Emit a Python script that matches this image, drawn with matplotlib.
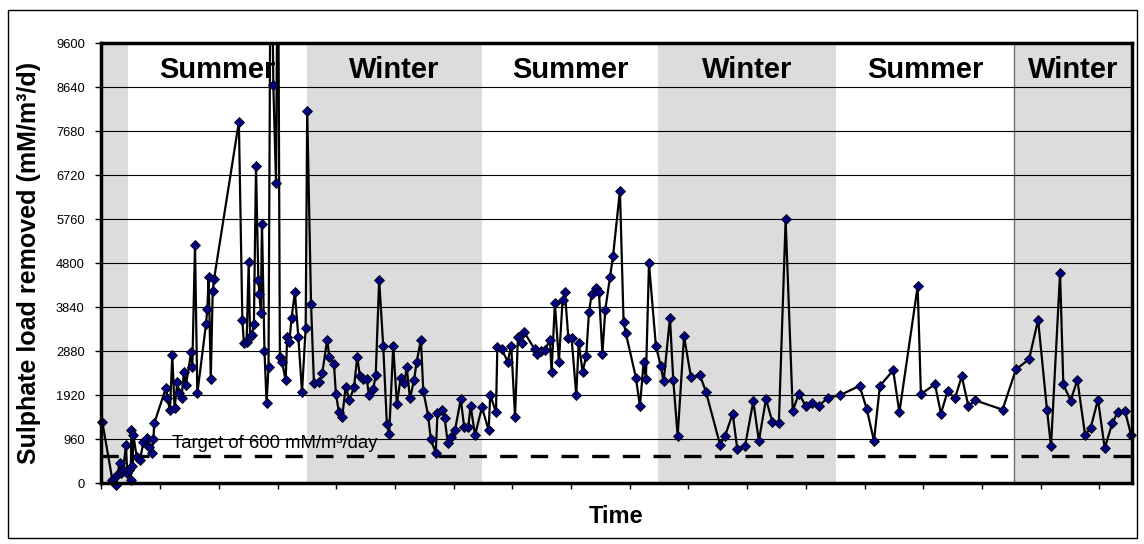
import numpy as np
import matplotlib
matplotlib.use('Agg')
import matplotlib.pyplot as plt
from matplotlib.patches import Rectangle

plt.rcParams['font.family'] = ['Liberation Sans', 'DejaVu Sans']

# sampling day (from start of record) and sulphate load removed (mM/m3/d)
days = [0.4, 5.7, 7.8, 8.3, 9.4, 10.4, 11.3, 12.7, 13.4, 14.4, 15.1, 15.6, 16.1, 16.6,
        18.3, 20.0, 21.8, 23.4, 24.7, 26.0, 27.0, 27.4, 33.5, 34.2, 35.6, 36.8, 38.0,
        39.4, 40.4, 41.6, 42.9, 43.9, 46.6, 47.2, 48.6, 49.8, 54.3, 55.0, 55.7, 56.8,
        57.8, 58.5, 71.4, 73.2, 74.0, 75.4, 76.5, 77.2, 78.0, 79.2, 80.3, 81.5, 82.1,
        82.8, 83.4, 84.7, 85.8, 86.8, 88.1, 89.3, 90.7, 91.7, 92.7, 93.9, 95.7, 96.5,
        97.6, 98.8, 100.5, 102.3, 104.2, 106.1, 106.9, 108.9, 110.4, 113.2, 114.7,
        117.3, 118.4, 120.8, 121.8, 123.4, 125.1, 126.9, 128.8, 131.2, 132.9, 134.3,
        136.0, 137.8, 139.0, 141.2, 142.5, 144.3, 146.4, 148.3, 149.5, 151.6, 153.5,
        155.5, 157.3, 158.6, 160.3, 162.4, 163.8, 166.0, 167.2, 169.8, 171.1, 173.7,
        174.6, 177.1, 178.3, 180.0, 181.8, 183.7, 186.7, 188.5, 190.6, 191.8, 194.1,
        197.7, 201.2, 202.0, 205.0, 205.7, 207.9, 211.1, 212.9, 214.9, 216.4, 218.3,
        219.5, 225.1, 226.5, 228.5, 230.4, 233.0, 233.9, 235.6, 237.7, 239.6, 240.8,
        242.6, 244.3, 246.7, 248.0, 250.0, 251.9, 253.3, 254.7, 256.9, 258.5, 260.3,
        261.8, 264.2, 265.8, 269.4, 271.3, 272.5, 277.7, 279.8, 281.7, 282.9, 284.5,
        288.1, 290.6, 292.1, 295.4, 297.1, 299.4, 302.7, 306.3, 311.0, 314.1, 321.4,
        324.0, 328.0, 330.4, 334.4, 338.7, 341.6, 345.3, 348.6, 352.0, 355.5, 359.2,
        362.4, 365.9, 369.3, 372.8, 377.3, 383.7, 393.9, 397.6, 401.4, 404.5, 411.4,
        414.6, 424.1, 425.8, 433.1, 436.2, 439.7, 443.5, 447.0, 450.5, 454.0, 468.2,
        475.2, 482.0, 486.7, 491.3, 493.4, 498.1, 499.8, 503.6, 507.1, 511.1, 514.0,
        517.8, 521.3, 525.2, 528.2, 531.8, 535.0]
load = [1340, 60, -50, 170, 440, 215, 280, 825, 215, 280, 65, 1150, 380, 1040,
        565, 510, 890, 975, 785, 660, 950, 1300, 2075, 1850, 1585, 2785, 1630,
        2195, 1970, 1865, 2420, 2140, 2855, 2535, 5190, 1955, 3460, 3790, 4490, 2275,
        4180, 4450, 7880, 3560, 3050, 3080, 4820, 3180, 3220, 3460, 6920, 4440, 4115,
        3720, 5660, 2875, 1750, 2525, 14000, 8680, 6540, 13000, 2740, 2630, 2240, 3180,
        3070, 3610, 4160, 3180, 1980, 3375, 8120, 3900, 2185, 2205, 2390,
        3130, 2740, 2605, 1950, 1540, 1445, 2100, 1810, 2085, 2750, 2330,
        2280, 2280, 1915, 2045, 2350, 4430, 2990, 1290, 1080, 2990, 1730,
        2300, 2175, 2530, 1845, 2240, 2650, 3130, 2015, 1460, 950, 660,
        1520, 1600, 1415, 865, 1000, 1155, 1825, 1215, 1215, 1690, 1045,
        1650, 1150, 1930, 1540, 2975, 2920, 2650, 3000, 1445, 3185, 3050,
        3300, 2920, 2810, 2890, 2895, 3130, 2425, 3925, 2650, 3990, 4160,
        3170, 3160, 1915, 3065, 2425, 2780, 3725, 4120, 4250, 4165, 2820,
        3785, 4485, 4945, 6380, 3510, 3265, 2300, 1675, 2630, 2280, 4790,
        2990, 2555, 2220, 3600, 2255, 1025, 3200, 2315, 2350, 1990, 840,
        1025, 1515, 735, 805, 1785, 920, 1830, 1335, 1315, 5750, 1575,
        1950, 1685, 1750, 1685, 1855, 1915, 2120, 1625, 920, 2120, 2460,
        1540, 4290, 1940, 2155, 1515, 2005, 1845, 2330, 1675, 1805, 1600,
        2480, 2700, 3560, 1600, 800, 4580, 2150, 1800, 2250, 1050, 1200,
        1820, 760, 1300, 1560, 1580, 1050]

season_edges = [0, 14.0, 106.9, 197.5, 289.3, 381.5, 474.4, 535.3]
season_names = ['', 'Summer', 'Winter', 'Summer', 'Winter', 'Summer', 'Winter']
target = 600
y_ticks = list(range(0, 9601, 960))
month_ticks = np.arange(0, 535.3, 30.5)

fig = plt.figure(figsize=(11.44, 5.44), dpi=100)
fig.patches.append(Rectangle((0.007, 0.011), 0.987, 0.9706, transform=fig.transFigure,
                             fill=False, ec='black', lw=1.0))
ax = fig.add_axes([0.0887, 0.1121, 0.9005, 0.8088])

for i, name in enumerate(season_names):
    x0, x1 = season_edges[i], season_edges[i + 1]
    if name != 'Summer':
        ax.axvspan(x0, x1, color='#dcdcdc', lw=0, zorder=0)
    if name:
        ax.text((x0 + x1) / 2, 8840, name, ha='center', va='baseline',
                fontsize=21, fontweight='bold', zorder=2)
ax.axvline(season_edges[6], color='#707070', lw=1.0, zorder=1)

for yv in y_ticks[1:]:
    ax.axhline(yv, color='black', lw=0.8, zorder=1)

ax.axhline(target, color='black', lw=2.4, dashes=(5.2, 4.0), zorder=3)
ax.text(36.5, 770, 'Target of 600 mM/m\u00b3/day', fontsize=13.3, va='baseline', zorder=3)

x = np.array(days)
y = np.array(load)
ax.plot(x, y, color='black', lw=1.6, zorder=4)
vis = y <= 9600
ax.plot(x[vis], y[vis], ls='none', marker='D', ms=5.4, mfc='#000080', mec='black',
        mew=0.6, zorder=5, clip_on=False)

ax.set_xlim(0, 535.3)
ax.set_ylim(0, 9600)
ax.set_yticks(y_ticks)
ax.set_xticks(month_ticks)
ax.set_xticklabels([])
ax.tick_params(axis='y', direction='out', length=4, width=1, labelsize=9.3, pad=8)
ax.tick_params(axis='x', direction='out', length=4, width=1)
for sp in ax.spines.values():
    sp.set_linewidth(2.5)
    sp.set_zorder(6)

ax.set_ylabel('Sulphate load removed (mM/m\u00b3/d)', fontsize=18, fontweight='bold', va='center')
ax.yaxis.set_label_coords(-0.0707, 0.5)
ax.set_xlabel('Time', fontsize=17, fontweight='bold', va='center')
ax.xaxis.set_label_coords(0.5, -0.077)

plt.savefig('out.png', dpi=100)
